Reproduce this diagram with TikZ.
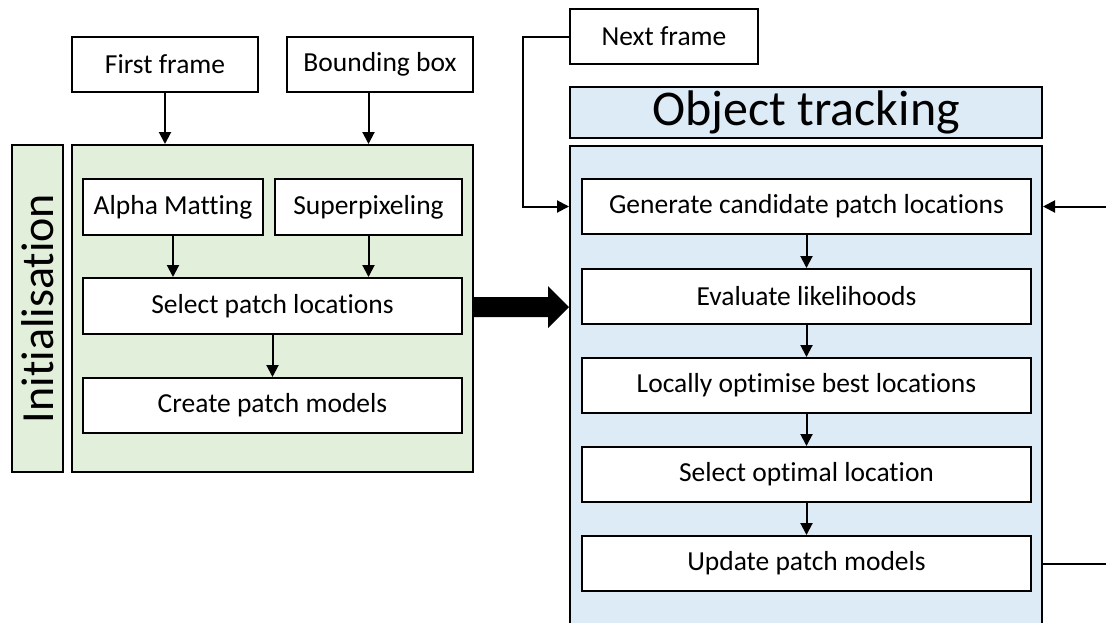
\documentclass[tikz,border=0pt]{standalone}
\usepackage{fontspec}
\setmainfont{Carlito}[Ligatures={NoCommon,NoRare,NoDiscretionary}]
\usetikzlibrary{arrows.meta}
\definecolor{initgreen}{HTML}{E2EFDA}
\definecolor{trackblue}{HTML}{DDEBF7}
\tikzset{
  stepbox/.style={draw=black, line width=2pt, fill=white, inner sep=0pt,
    font=\fontsize{27.5}{33}\selectfont},
  panel/.style={draw=black, line width=2pt, inner sep=0pt},
  arr/.style={line width=2pt, -{Triangle[length=12pt,width=12pt]}},
  plain/.style={line width=2pt},
}
\begin{document}
\begin{tikzpicture}[x=1pt,y=-1pt]
\clip (0,0) rectangle (1106,622);
\fill[white] (0,0) rectangle (1106,622);

% inputs
\node[stepbox, minimum width=186pt, minimum height=55pt] (ff) at (165,64.5) {First frame};
\node[stepbox, minimum width=186pt, minimum height=55pt] (bb) at (380,64.5) {Bounding box};
\node[stepbox, minimum width=188pt, minimum height=55pt] (nf) at (664,36.5) {Next frame};

% initialisation stage
\node[panel, fill=initgreen, minimum width=51pt, minimum height=327pt] (init) at (37.5,308.5)
  {\rotatebox{90}{\fontsize{46}{50}\selectfont Initialisation}};
\node[panel, fill=initgreen, minimum width=401pt, minimum height=327pt] (grn) at (272.5,308.5) {};
\node[stepbox, minimum width=180pt, minimum height=56pt] (am) at (173,207) {Alpha Matting};
\node[stepbox, minimum width=187pt, minimum height=56pt] (sp) at (368.5,207) {Superpixeling};
\node[stepbox, minimum width=379pt, minimum height=56pt] (sel) at (272.5,306) {Select patch locations};
\node[stepbox, minimum width=379pt, minimum height=55pt] (cpm) at (272.5,405.5) {Create patch models};

% tracking stage
\node[panel, fill=trackblue, minimum width=472pt, minimum height=51pt,
  font=\fontsize{50}{56}\selectfont] (ttl) at (806,112.5) {Object tracking};
\node[panel, fill=trackblue, minimum width=472pt, minimum height=554pt] (trk) at (806,423) {};
\node[stepbox, minimum width=449pt, minimum height=55pt] (gen) at (806.5,206.5) {Generate candidate patch locations};
\node[stepbox, minimum width=449pt, minimum height=55pt] (eva) at (806.5,296.5) {Evaluate likelihoods};
\node[stepbox, minimum width=449pt, minimum height=55pt] (loc) at (806.5,385.5) {Locally optimise best locations};
\node[stepbox, minimum width=449pt, minimum height=55pt] (opt) at (806.5,474.5) {Select optimal location};
\node[stepbox, minimum width=449pt, minimum height=55pt] (upd) at (806.5,563.5) {Update patch models};

% connectors in the initialisation stage
\draw[arr] (ff) -- (ff |- grn.north);
\draw[arr] (bb.south -| sp) -- (sp |- grn.north);
\draw[arr] (am) -- (am |- sel.north);
\draw[arr] (sp) -- (sp |- sel.north);
\draw[arr] (sel) -- (cpm);

% connectors in the tracking stage
\draw[arr] (gen) -- (eva);
\draw[arr] (eva) -- (loc);
\draw[arr] (loc) -- (opt);
\draw[arr] (opt) -- (upd);

% next frame feeds the candidate generation
\coordinate (nfbend) at (523,0);
\draw[arr] (nf.west) -| (nfbend |- gen) -- (trk.west |- gen);

% loop back from the update step
\coordinate (rin) at (1106,206.5);
\coordinate (rout) at (1106,563.5);
\draw[arr] (rin) -- (trk.east |- rin);
\draw[plain] (trk.east |- rout) -- (rout);

% thick arrow between the two stages
\fill[black] (grn.east |- 0,297) -- (548,297) -- (548,286) -- (trk.west |- 0,307)
  -- (548,328) -- (548,317) -- (grn.east |- 0,317) -- cycle;
\end{tikzpicture}
\end{document}
